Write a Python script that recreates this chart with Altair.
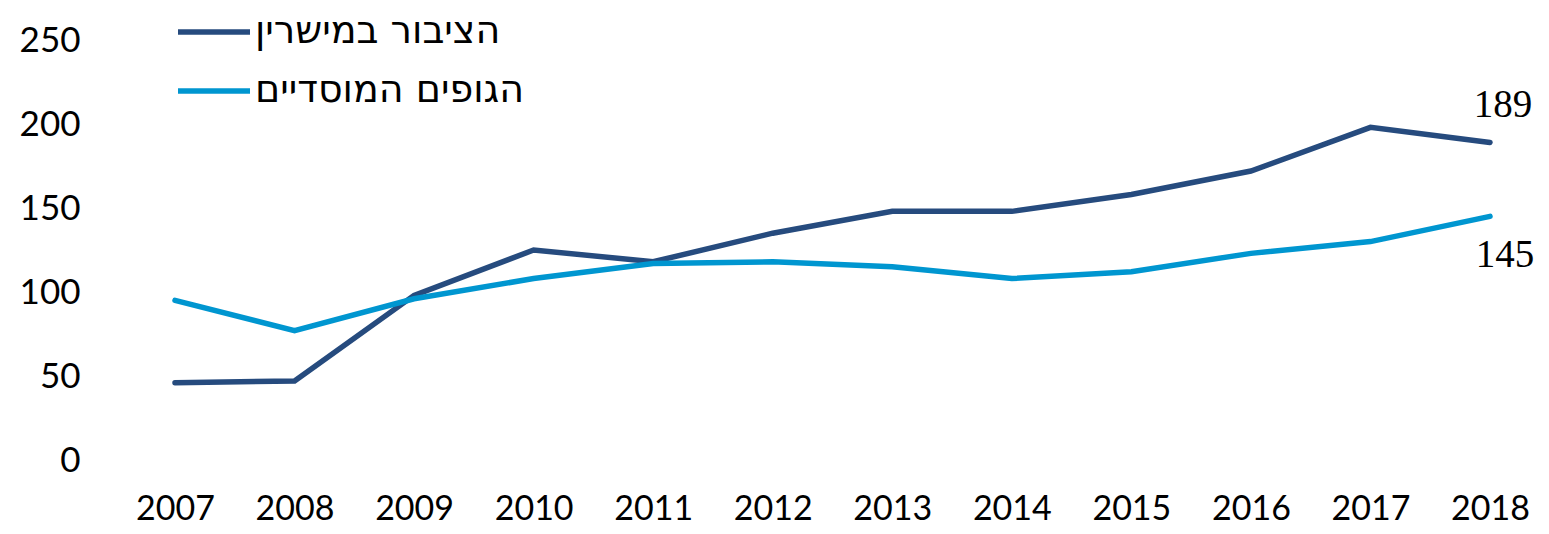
import altair as alt
import pandas as pd

years = [str(y) for y in range(2007, 2019)]
series_names = ["הציבור במישרין", "הגופים המוסדיים"]
public_direct = [46, 47, 98, 125, 118, 135, 148, 148, 158, 172, 198, 189]
institutional = [95, 77, 96, 108, 117, 118, 115, 108, 112, 123, 130, 145]
colors = ["#264B7E", "#0096D0"]

rows = []
for i, y in enumerate(years):
    rows.append({"year": y, "series": series_names[0], "value": public_direct[i]})
    rows.append({"year": y, "series": series_names[1], "value": institutional[i]})
df = pd.DataFrame(rows)

x_enc = alt.X("year:O", scale=alt.Scale(type="point", range=[60, 1375], padding=0),
              axis=alt.Axis(title=None, labelAngle=0, domain=False, ticks=False, grid=False,
                            labelFontSize=34, labelFont="Lato", labelColor="#000",
                            labelPadding=32))
y_enc = alt.Y("value:Q", scale=alt.Scale(domain=[0, 250], nice=False),
              axis=alt.Axis(title=None, values=[0, 50, 100, 150, 200, 250], grid=False,
                            domain=False, ticks=False, labelFontSize=35, labelFont="Lato",
                            labelColor="#000", labelPadding=35))

lines = alt.Chart(df).mark_line(strokeWidth=5.5, strokeCap="round").encode(
    x=x_enc, y=y_enc,
    color=alt.Color("series:N", sort=series_names,
                    scale=alt.Scale(domain=series_names, range=colors),
                    legend=alt.Legend(title=None, orient="none", legendX=60, legendY=-47,
                                      symbolType="stroke", symbolSize=5184,
                                      symbolStrokeWidth=5.5, labelFontSize=38,
                                      labelFont="DejaVu Sans", labelColor="#000",
                                      labelOffset=2, rowPadding=1, padding=0,
                                      labelLimit=0)),
)

last = df[df["year"] == "2018"]
lab_top = alt.Chart(last[last["series"] == series_names[0]]).mark_text(
    dx=13, dy=-37, fontSize=39, font="Liberation Serif", color="#000").encode(
    x="year:O", y="value:Q", text="value:Q")
lab_bot = alt.Chart(last[last["series"] == series_names[1]]).mark_text(
    dx=15, dy=39, fontSize=39, font="Liberation Serif", color="#000").encode(
    x="year:O", y="value:Q", text="value:Q")

chart = alt.layer(lines, lab_top, lab_bot).properties(
    width=1420, height=420,
    background="white",
    autosize=alt.AutoSizeParams(type="none"),
    padding={"left": 107, "top": 32, "right": 6, "bottom": 66},
).configure_view(stroke=None, strokeWidth=0)

chart.save("out.html", embed_options={"renderer": "svg", "actions": False})
